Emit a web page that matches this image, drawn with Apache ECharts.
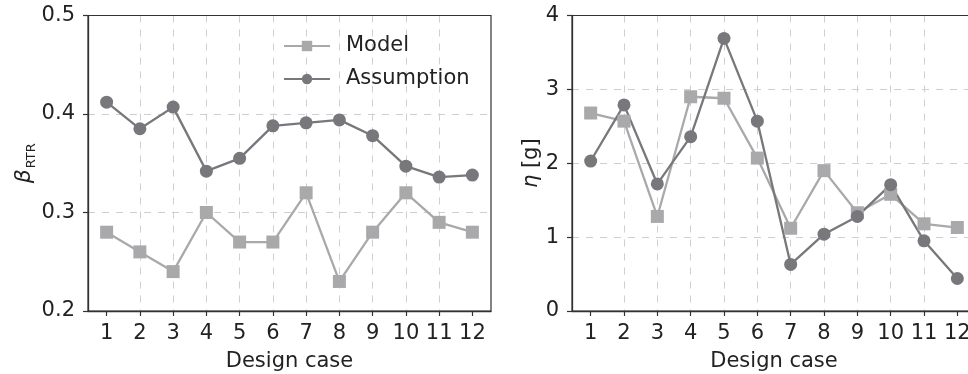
<!DOCTYPE html>
<html><head><meta charset="utf-8">
<script src="https://cdn.jsdelivr.net/npm/echarts@6/dist/echarts.min.js"></script>
<style>html,body{margin:0;padding:0;background:#fff}#c{width:968px;height:374px}</style>
</head><body><div id="c"></div>
<script>
const cases = [1,2,3,4,5,6,7,8,9,10,11,12];
const betaModel = [0.28,0.26,0.24,0.30,0.27,0.27,0.32,0.23,0.28,0.32,0.29,0.28];
const betaAssumption = [0.412,0.385,0.407,0.342,0.355,0.388,0.391,0.394,0.378,0.347,0.336,0.338];
const etaModel = [2.68,2.57,1.28,2.90,2.88,2.07,1.12,1.90,1.33,1.58,1.18,1.13];
const etaAssumption = [2.03,2.79,1.72,2.36,3.69,2.57,0.63,1.04,1.28,1.71,0.95,0.44];
const betaTicks = [0.2,0.3,0.4,0.5];
const etaTicks = [0,1,2,3,4];

const FONT = 'DejaVu Sans';
const TXT = '#222222';
const SPINE = '#333333';
const GRIDC = '#cfcfcf';
const C_MODEL = '#a9a9ab';
const C_ASSUME = '#78787c';
const pair = (ys) => cases.map((c,i)=>[c, ys[i]]);

function xAxis(gi){
  return {
    type:'value', gridIndex:gi, min:0.44, max:12.56,
    name:'Design case', nameLocation:'middle', nameGap:40,
    nameTextStyle:{fontFamily:FONT,fontSize:21,color:TXT},
    axisLine:{show:true,lineStyle:{color:SPINE,width:1.3}},
    axisTick:{show:true,length:5,customValues:cases,lineStyle:{color:SPINE,width:1.2}},
    axisLabel:{customValues:cases,margin:12,fontFamily:FONT,fontSize:21,color:TXT},
    splitLine:{show:true,showMinLine:false,showMaxLine:false,lineStyle:{color:GRIDC,type:[7,7],width:1}}
  };
}
function yAxis(gi, ticks, dec, name, gap, rich){
  return {
    type:'value', gridIndex:gi, min:ticks[0], max:ticks[ticks.length-1], interval:ticks[1]-ticks[0],
    name:name, nameLocation:'middle', nameRotate:90, nameGap:gap,
    nameTextStyle:{fontFamily:FONT,fontSize:21,color:TXT,rich:rich},
    axisLine:{show:true,lineStyle:{color:SPINE,width:1.3}},
    axisTick:{show:true,length:5,lineStyle:{color:SPINE,width:1.2}},
    axisLabel:{margin:13,fontFamily:FONT,fontSize:21,color:TXT,formatter:v=>v.toFixed(dec)},
    splitLine:{show:true,showMinLine:false,showMaxLine:false,lineStyle:{color:GRIDC,type:[7,7],width:1}}
  };
}
function series(name, gi, ys, color, sym, size){
  return {
    name:name, type:'line', xAxisIndex:gi, yAxisIndex:gi, data:pair(ys),
    symbol:sym, symbolSize:size, showSymbol:true,
    lineStyle:{color:color,width:2.3}, itemStyle:{color:color},
    emphasis:{disabled:true}, animation:false
  };
}

const chart = echarts.init(document.getElementById('c'), null, {renderer:'canvas'});
chart.setOption({
  animation:false,
  backgroundColor:'#fff',
  grid:[
    {left:88, top:15.5, width:403, height:295.5, outerBoundsMode:'none', containLabel:false, show:true, z:3, borderColor:SPINE, borderWidth:1.2, backgroundColor:'transparent'},
    {left:572, top:15.5, width:404, height:295.5, outerBoundsMode:'none', containLabel:false, show:true, z:3, borderColor:SPINE, borderWidth:1.2, backgroundColor:'transparent'}
  ],
  legend:{
    left:283, top:35.5, padding:0, orient:'vertical', itemWidth:46, itemHeight:13, itemGap:12,
    data:['Model','Assumption'],
    textStyle:{fontFamily:FONT,fontSize:21,color:TXT,padding:[0,0,0,11]},
    selectedMode:false
  },
  xAxis:[xAxis(0), xAxis(1)],
  yAxis:[
    yAxis(0, betaTicks, 1, '{b|β}{s|RTR}', 48, {
      b:{fontFamily:FONT,fontStyle:'italic',fontSize:22,color:TXT,lineHeight:24,verticalAlign:'middle'},
      s:{fontFamily:FONT,fontSize:13,color:TXT,lineHeight:24,verticalAlign:'bottom',padding:[0,0,-1,1]}
    }),
    yAxis(1, etaTicks, 0, '{i|η} [g]', 29, {
      i:{fontFamily:FONT,fontStyle:'italic',fontSize:21,color:TXT}
    })
  ],
  series:[
    series('Model',0,betaModel,C_MODEL,'rect',13),
    series('Assumption',0,betaAssumption,C_ASSUME,'circle',13),
    series('Model',1,etaModel,C_MODEL,'rect',13),
    series('Assumption',1,etaAssumption,C_ASSUME,'circle',13)
  ]
});
</script></body></html>
